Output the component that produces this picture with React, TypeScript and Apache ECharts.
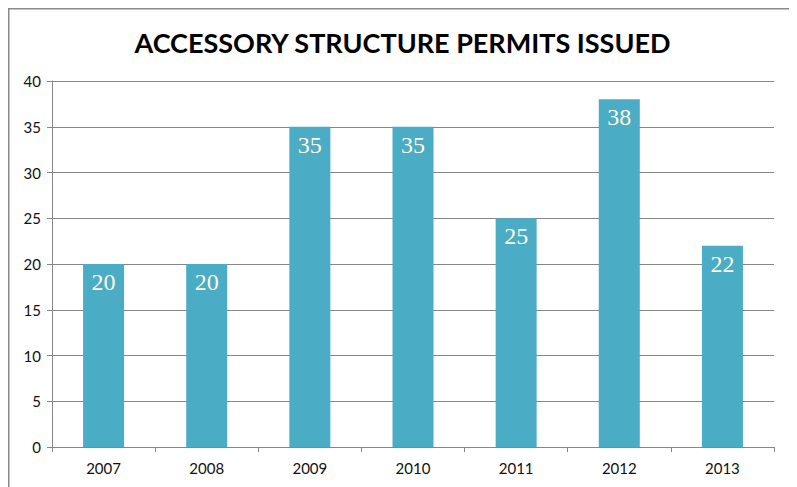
import React, { useEffect, useRef } from "react";
import * as echarts from "echarts";

const categories = ["2007", "2008", "2009", "2010", "2011", "2012", "2013"];
const permits = [20, 20, 35, 35, 25, 38, 22];
const titleText = "ACCESSORY STRUCTURE PERMITS ISSUED";

export default function App() {
  const ref = useRef<HTMLDivElement>(null);
  useEffect(() => {
    const chart = echarts.init(ref.current!, null, { renderer: "svg" });
    chart.setOption({
      animation: false,
      backgroundColor: "#ffffff",
      title: {
        text: titleText,
        left: "center",
        top: 16,
        textStyle: { fontFamily: "Lato", fontWeight: "bold", fontSize: 27, color: "#000" },
      },
      graphic: [
        {
          type: "rect",
          shape: { x: 0.75, y: 0.75, width: 781.5, height: 520 },
          style: { fill: "none", stroke: "#8a8a8a", lineWidth: 1.5 },
          silent: true,
        },
      ],
      grid: { left: 44, top: 73, width: 722, bottom: 40, containLabel: false },
      xAxis: {
        type: "category",
        data: categories,
        axisLine: { lineStyle: { color: "#868686", width: 1 } },
        axisTick: { show: true, length: 5, alignWithLabel: false, lineStyle: { color: "#868686" } },
        axisLabel: { fontFamily: "Lato", fontSize: 15, color: "#111", margin: 13 },
      },
      yAxis: {
        type: "value",
        min: 0,
        max: 40,
        interval: 5,
        axisLine: { show: true, lineStyle: { color: "#868686", width: 1 } },
        axisTick: { show: true, length: 5, lineStyle: { color: "#868686" } },
        axisLabel: { fontFamily: "Lato", fontSize: 15, color: "#111", margin: 11 },
        splitLine: { lineStyle: { color: "#868686", width: 1 } },
      },
      series: [
        {
          type: "bar",
          data: permits,
          barWidth: 41,
          itemStyle: { color: "#4BACC6" },
          label: {
            show: true,
            position: "insideTop",
            distance: 6,
            fontFamily: "Liberation Serif",
            fontSize: 24,
            color: "#fdf9e3",
          },
        },
      ],
    });
    return () => chart.dispose();
  }, []);
  return <div ref={ref} style={{ width: 789, height: 479 }} />;
}
